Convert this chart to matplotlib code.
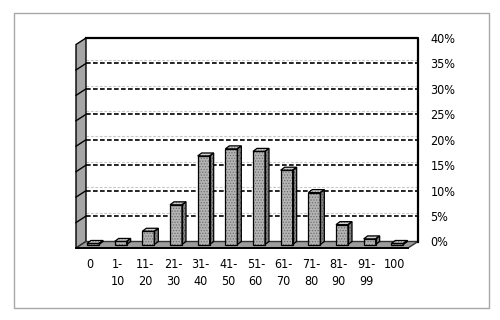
import matplotlib
matplotlib.use("Agg")
import matplotlib.pyplot as plt
from matplotlib.patches import Polygon, Rectangle

plt.rcParams["font.family"] = ["DejaVu Sans"]
plt.rcParams["font.stretch"] = "condensed"
plt.rcParams["hatch.linewidth"] = 0.6
FS = 9.0

# share of respondents per score band (%)
bands = ["0", "1-\n10", "11-\n20", "21-\n30", "31-\n40", "41-\n50",
         "51-\n60", "61-\n70", "71-\n80", "81-\n90", "91-\n99", "100"]
share = [0.2, 0.6, 2.6, 7.8, 17.4, 18.8, 18.3, 14.6, 10.2, 3.9, 1.1, 0.2]
yticks = [0, 5, 10, 15, 20, 25, 30, 35, 40]

W, H = 500, 320
fig = plt.figure(figsize=(W / 100, H / 100), dpi=100)
fig.patches.append(Rectangle((14 / W, 1 - 308 / H), 475 / W, 295 / H, transform=fig.transFigure,
                             fill=False, ec="#a8a8a8", lw=1.0))

ax = fig.add_axes([86 / W, 1 - 241.5 / H, 332 / W, 203.5 / H])
ax.set_xlim(-0.5, len(bands) - 0.5)
ax.set_ylim(0, 40)
ax.patch.set_visible(False)
for s in ax.spines.values():
    s.set_visible(False)

# pixel -> data units
px = (len(bands)) / 332.0
py = 40 / 203.5
wall_dx, wall_dy = -10 * px, -6.5 * py      # depth of floor / left wall
x0, x1 = -0.5, len(bands) - 0.5

# gridlines on back wall and left wall
for v in yticks[1:-1]:
    ax.plot([x0, x1], [v + 0.65, v + 0.65], color="#c8c8c8", lw=0.8, ls=(0, (2.5, 1.5)), clip_on=False, zorder=1)
    ax.plot([x0, x1], [v, v], color="black", lw=1.2, ls=(0, (2.8, 1.4)), clip_on=False, zorder=2)

# left wall
ax.add_patch(Polygon([(x0, 0), (x0, 40), (x0 + wall_dx, 40 + wall_dy), (x0 + wall_dx, wall_dy)],
                     closed=True, fc="#a6a6a6", ec="black", lw=1.0, clip_on=False, zorder=3))
for v in yticks[1:-1]:
    ax.plot([x0, x0 + wall_dx], [v, v + wall_dy], color="black", lw=1.0, clip_on=False, zorder=3)

# floor
ax.add_patch(Polygon([(x0, 0), (x1, 0), (x1 + wall_dx, wall_dy), (x0 + wall_dx, wall_dy)],
                     closed=True, fc="#9c9c9c", ec="#333333", lw=1.0, clip_on=False, zorder=3))
ax.plot([x0 + wall_dx, x1 + wall_dx], [wall_dy, wall_dy], color="black", lw=1.4, clip_on=False, zorder=3)

# back wall frame
ax.plot([x0, x1, x1], [40, 40, 0], color="black", lw=1.6, clip_on=False, zorder=3)

# 3-d bars
half = 6 * px
bdx, bdy = 4 * px, 3 * py
for i, v in enumerate(share):
    c = i - 0.5 + 7 * px
    l, r = c - half, c + half
    b, t = -bdy, v - bdy
    front = [(l, b), (r, b), (r, t), (l, t)]
    side = [(r, b), (r + bdx, b + bdy), (r + bdx, t + bdy), (r, t)]
    top = [(l, t), (r, t), (r + bdx, t + bdy), (l + bdx, t + bdy)]
    for poly, fc, hc in [(front, "#b4b4b4", "#6e6e6e"), (side, "#858585", "#4a4a4a"), (top, "#d0d0d0", "#808080")]:
        ax.add_patch(Polygon(poly, closed=True, fc=fc, ec=hc, lw=0, hatch="......", clip_on=False, zorder=4))
        ax.add_patch(Polygon(poly, closed=True, fill=False, ec="black", lw=0.9, clip_on=False, zorder=5))

ax.yaxis.tick_right()
ax.set_yticks(yticks)
ax.set_yticklabels([f"{v}%" for v in yticks], fontsize=FS)
ax.tick_params(axis="y", length=0, pad=9)
ax.set_xticks([i + wall_dx for i in range(len(bands))])
ax.set_xticklabels(bands, fontsize=FS, linespacing=1.35)
ax.tick_params(axis="x", length=0, pad=12)

fig.savefig("out.png", dpi=100)
